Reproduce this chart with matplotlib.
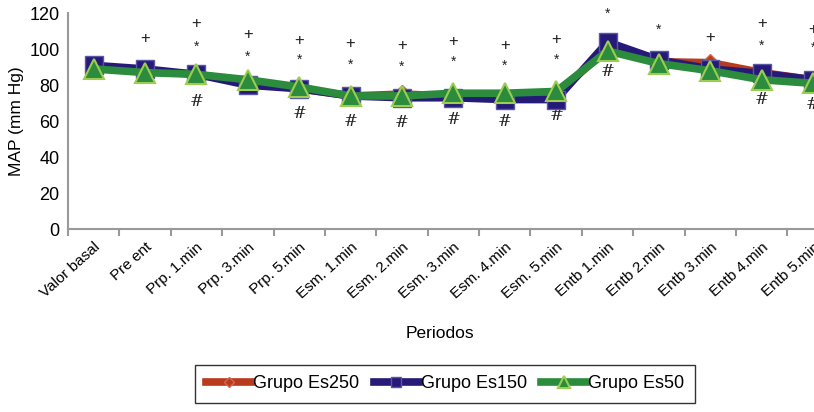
import numpy as np
import matplotlib.pyplot as plt

plt.rcParams['font.family'] = ['Liberation Sans', 'DejaVu Sans']

periodos = ['Valor basal', 'Pre ent', 'Prp. 1.min', 'Prp. 3.min', 'Prp. 5.min',
            'Esm. 1.min', 'Esm. 2.min', 'Esm. 3.min', 'Esm. 4.min', 'Esm. 5.min',
            'Entb 1.min', 'Entb 2.min', 'Entb 3.min', 'Entb 4.min', 'Entb 5.min']

es250 = [90, 88, 86, 82, 78, 74, 75, 74, 74, 75, 100, 93, 92.5, 87, 83]
es150 = [91, 89, 86, 80, 78, 74, 73, 73, 72, 72, 104, 94, 89, 86.5, 83]
es50 = [89, 87, 86, 83, 79, 74, 74, 75.5, 75.5, 76.5, 99, 92, 88, 83, 81]

# marcas de significancia: (indice del periodo, valor y)
plus_marks = [(1, 106), (2, 114), (3, 108), (4, 105), (5, 103), (6, 102),
              (7, 104.5), (8, 102), (9, 105.5), (12, 106.5), (13, 114), (14, 111)]
star_marks = [(2, 101.5), (3, 95.5), (4, 94), (5, 91.5), (6, 90), (7, 93),
              (8, 90.5), (9, 94), (10, 119.5), (11, 110.5), (13, 102), (14, 101)]
hash_marks = [(2, 71), (4, 64), (5, 60), (6, 59), (7, 61), (8, 60), (9, 63),
              (10, 87.5), (13, 72), (14, 69)]

x = np.arange(len(periodos))

fig = plt.figure(figsize=(8.14, 4.12), dpi=100)
ax = fig.add_axes([0.0835, 0.444, 0.947, 0.524])

ax.plot(x, es250, color='#b93a1d', lw=5.5, marker='D', ms=9,
        mfc='#b93a1d', mec='#d06a50', label='Grupo Es250', zorder=3)
ax.plot(x, es150, color='#261a78', lw=5.5, marker='s', ms=13,
        mfc='#261a78', mec='#5a55a5', label='Grupo Es150', zorder=4)
ax.plot(x, es50, color='#2a8c3c', lw=5.5, marker='^', ms=15,
        mfc='#2a8c3c', mec='#9ccc50', mew=1.5, label='Grupo Es50', zorder=5)

for i, v in plus_marks:
    ax.text(i, v, '+', ha='center', va='center', fontsize=12, color='#222222')
for i, v in star_marks:
    ax.text(i, v, '*', ha='center', va='center', fontsize=10, color='#222222')
for i, v in hash_marks:
    ax.text(i, v, '#', ha='center', va='center', fontsize=12, color='#222222',
            family='DejaVu Serif', style='italic')

ax.set_xlim(-0.5, len(periodos) - 0.5)
ax.set_ylim(0, 120)
ax.set_yticks(range(0, 121, 20))
ax.tick_params(axis='y', length=0, labelsize=13, pad=6)

ax.set_xticks(np.arange(-0.5, len(periodos), 1))
ax.set_xticklabels([])
ax.set_xticks(x, minor=True)
ax.set_xticklabels(periodos, minor=True, rotation=42, ha='right',
                   rotation_mode='anchor', fontsize=11)
ax.tick_params(axis='x', which='major', length=5, width=1.5, color='#999999')
ax.tick_params(axis='x', which='minor', length=0, pad=8)

for s in ['top', 'right']:
    ax.spines[s].set_visible(False)
for s in ['left', 'bottom']:
    ax.spines[s].set_color('#999999')
    ax.spines[s].set_linewidth(1.5)

ax.set_ylabel('MAP (mm Hg)', fontsize=12.5, labelpad=4)
fig.text(0.54, 0.19, 'Periodos', ha='center', va='center', fontsize=12.5)

leg = fig.legend(loc='center', bbox_to_anchor=(0.547, 0.068), ncol=3,
                 fontsize=13, fancybox=False, edgecolor='black',
                 handlelength=2.5, handletextpad=0.1, columnspacing=0.8,
                 borderpad=0.6, markerscale=0.6)
leg.get_frame().set_linewidth(1.0)

fig.savefig('out.png', dpi=100)
